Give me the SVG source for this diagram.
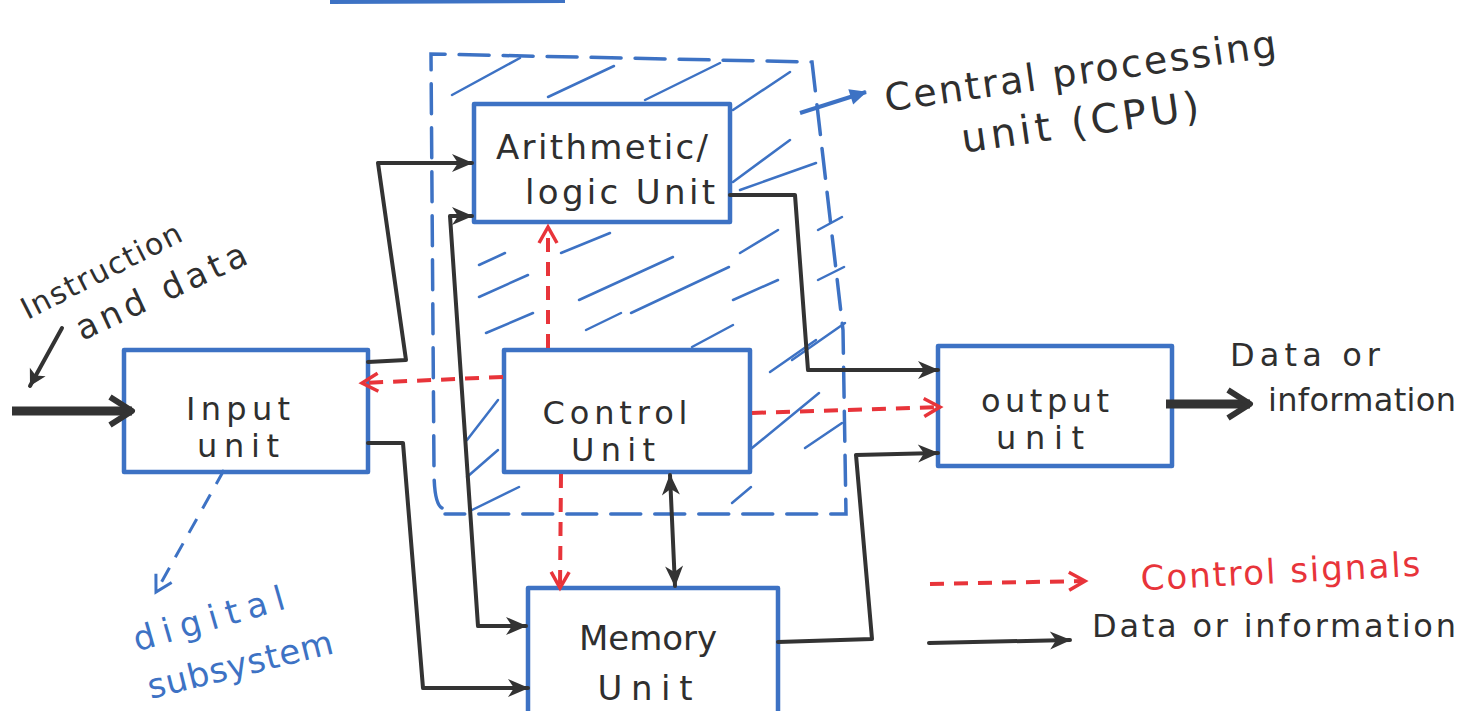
<svg xmlns="http://www.w3.org/2000/svg" width="1460" height="711" viewBox="0 0 1460 711">
<style>
.bg{fill:#ffffff}
.box{fill:none;stroke:#3d72c4;stroke-width:4.5;stroke-linejoin:round}
.cpu{fill:none;stroke:#3d72c4;stroke-width:3.5;stroke-dasharray:30 14;stroke-linecap:round}
.hatch line{stroke:#3d72c4;stroke-width:2.5;stroke-linecap:round}
.data{fill:none;stroke:#333333;stroke-width:4;stroke-linejoin:round;stroke-linecap:round}
.thick{fill:none;stroke:#333333;stroke-width:9}
.ctrl{fill:none;stroke:#e8343a;stroke-width:4;stroke-dasharray:14 10}
.bluearr{fill:none;stroke:#3d72c4;stroke-width:3;stroke-dasharray:16 12}
.t{font-family:"DejaVu Sans","Liberation Sans",sans-serif;fill:#2f2f2f;font-size:32px}
.l{font-size:34px}
.tb{font-family:"DejaVu Sans","Liberation Sans",sans-serif;fill:#3d72c4;font-size:34px}
.tr{font-family:"DejaVu Sans","Liberation Sans",sans-serif;fill:#e8343a;font-size:34px}
</style>
<defs>
<marker id="aBlack" markerUnits="userSpaceOnUse" markerWidth="26" markerHeight="22" refX="22" refY="11" orient="auto-start-reverse">
<path d="M2,2 L23,11 L2,20 L8,11 z" fill="#333333"/>
</marker>
<marker id="aBig" markerUnits="userSpaceOnUse" markerWidth="34" markerHeight="34" refX="30" refY="17" orient="auto">
<path d="M8,3 L30,17 L8,31" fill="none" stroke="#333333" stroke-width="6" stroke-linejoin="round"/>
</marker>
<marker id="aRed" markerUnits="userSpaceOnUse" markerWidth="24" markerHeight="24" refX="20" refY="12" orient="auto">
<path d="M4,3 L20,12 L4,21" fill="none" stroke="#e8343a" stroke-width="3.5"/>
</marker>
<marker id="aBlue" markerUnits="userSpaceOnUse" markerWidth="24" markerHeight="24" refX="20" refY="12" orient="auto">
<path d="M4,3 L20,12 L4,21" fill="none" stroke="#3d72c4" stroke-width="3"/>
</marker>
<marker id="aBlueFill" markerUnits="userSpaceOnUse" markerWidth="22" markerHeight="20" refX="18" refY="10" orient="auto">
<path d="M2,2 L19,10 L2,18 z" fill="#3d72c4"/>
</marker>
<marker id="aThin" markerUnits="userSpaceOnUse" markerWidth="24" markerHeight="24" refX="20" refY="12" orient="auto">
<path d="M4,3 L20,12 L4,21 L8,12 z" fill="#333333"/>
</marker>
</defs>
<rect class="bg" x="0" y="0" width="1460" height="711"/>

<line x1="330" y1="2" x2="565" y2="1" stroke="#3d72c4" stroke-width="4"/>

<g id="cpu">
<path class="cpu" d="M442,508 Q434,504 434,470 L431,54 L812,62 L843,330 L846,514 L445,514"/>
<g class="hatch">
<line x1="452" y1="95" x2="520" y2="58"/>
<line x1="548" y1="97" x2="614" y2="66"/>
<line x1="645" y1="100" x2="720" y2="63"/>
<line x1="733" y1="110" x2="790" y2="72"/>
<line x1="733" y1="182" x2="790" y2="140"/>
<line x1="740" y1="190" x2="816" y2="163"/>
<line x1="740" y1="253" x2="778" y2="230"/>
<line x1="733" y1="300" x2="778" y2="280"/>
<line x1="818" y1="230" x2="842" y2="217"/>
<line x1="818" y1="280" x2="844" y2="267"/>
<line x1="792" y1="360" x2="845" y2="323"/>
<line x1="479" y1="265" x2="505" y2="253"/>
<line x1="479" y1="297" x2="528" y2="275"/>
<line x1="486" y1="333" x2="533" y2="313"/>
<line x1="561" y1="253" x2="610" y2="233"/>
<line x1="579" y1="300" x2="673" y2="257"/>
<line x1="586" y1="330" x2="621" y2="313"/>
<line x1="631" y1="313" x2="729" y2="267"/>
<line x1="692" y1="347" x2="733" y2="325"/>
<line x1="467" y1="440" x2="498" y2="400"/>
<line x1="467" y1="477" x2="498" y2="450"/>
<line x1="472" y1="510" x2="519" y2="487"/>
<line x1="770" y1="372" x2="816" y2="340"/>
<line x1="752" y1="448" x2="819" y2="393"/>
<line x1="805" y1="448" x2="842" y2="423"/>
<line x1="732" y1="503" x2="751" y2="487"/>
</g>
<text class="t" transform="translate(1082,84) rotate(-8)" text-anchor="middle" textLength="395" style="font-size:38px">Central processing</text>
<text class="t" transform="translate(1082,136) rotate(-8)" text-anchor="middle" textLength="240" style="font-size:40px">unit (CPU)</text>
</g>

<g id="alu">
<rect class="box" x="474" y="104" width="256" height="118"/>
<text class="t l" x="602" y="159" text-anchor="middle" textLength="212">Arithmetic/</text>
<text class="t l" x="620" y="204" text-anchor="middle" textLength="190">logic Unit</text>
</g>

<g id="input">
<rect class="box" x="124" y="350" width="244" height="122"/>
<text class="t" x="238" y="420" text-anchor="middle" textLength="104">Input</text>
<text class="t" x="238" y="457" text-anchor="middle" textLength="82">unit</text>
</g>

<g id="control">
<rect class="box" x="504" y="350" width="246" height="122"/>
<text class="t" x="615" y="424" text-anchor="middle" textLength="145">Control</text>
<text class="t" x="613" y="461" text-anchor="middle" textLength="84">Unit</text>
</g>

<g id="output">
<rect class="box" x="938" y="346" width="234" height="120"/>
<text class="t" x="1045" y="412" text-anchor="middle" textLength="128">output</text>
<text class="t" x="1040" y="449" text-anchor="middle" textLength="88">unit</text>
</g>

<g id="memory">
<rect class="box" x="528" y="588" width="250" height="130"/>
<text class="t l" x="648" y="650" text-anchor="middle" textLength="138">Memory</text>
<text class="t l" x="645" y="700" text-anchor="middle" textLength="95">Unit</text>
</g>

<g id="connectors">
<line class="thick" x1="12" y1="411" x2="132" y2="411" marker-end="url(#aBig)"/>
<line class="thick" x1="1166" y1="404" x2="1250" y2="404" marker-end="url(#aBig)"/>
<line class="data" x1="62" y1="328" x2="30" y2="386" marker-end="url(#aThin)"/>
<path class="data" d="M368,362 L406,360 L378,163 L472,163" marker-end="url(#aBlack)"/>
<path class="data" d="M526,626 L478,626 L450,216 L472,216" marker-start="url(#aBlack)" marker-end="url(#aBlack)"/>
<path class="data" d="M368,443 L403,443 L423,688 L528,688" marker-end="url(#aBlack)"/>
<path class="data" d="M730,195 L795,195 L808,370 L938,370" marker-end="url(#aBlack)"/>
<path class="data" d="M778,642 L872,639 L856,455 L938,453" marker-end="url(#aBlack)"/>
<line class="data" x1="670" y1="475" x2="675" y2="586" marker-start="url(#aBlack)" marker-end="url(#aBlack)"/>
<line class="ctrl" x1="548" y1="348" x2="548" y2="227" marker-end="url(#aRed)"/>
<line class="ctrl" x1="503" y1="377" x2="362" y2="383" marker-end="url(#aRed)"/>
<line class="ctrl" x1="561" y1="474" x2="560" y2="588" marker-end="url(#aRed)"/>
<line class="ctrl" x1="752" y1="413" x2="940" y2="407" marker-end="url(#aRed)"/>
<line class="bluearr" x1="224" y1="470" x2="156" y2="592" marker-end="url(#aBlue)"/>
<line x1="800" y1="113" x2="866" y2="92" stroke="#3d72c4" stroke-width="4" marker-end="url(#aBlueFill)"/>
</g>

<g id="labels">
<text class="t" transform="translate(106,280) rotate(-27)" text-anchor="middle" textLength="176" style="font-size:30px">Instruction</text>
<text class="t" transform="translate(166,302) rotate(-25)" text-anchor="middle" textLength="185" style="font-size:34px">and data</text>
<text class="tb" transform="translate(212,630) rotate(-16)" text-anchor="middle" textLength="156">digital</text>
<text class="tb" transform="translate(243,676) rotate(-14)" text-anchor="middle" textLength="190">subsystem</text>
<text class="t" x="1230" y="366" textLength="150">Data or</text>
<text class="t" x="1268" y="411" textLength="188">information</text>
</g>

<g id="legend">
<line class="ctrl" x1="930" y1="584" x2="1085" y2="581" marker-end="url(#aRed)"/>
<line class="data" x1="929" y1="643" x2="1070" y2="640" marker-end="url(#aBlack)"/>
<text class="tr" transform="translate(1281,583) rotate(-3)" text-anchor="middle" textLength="280">Control signals</text>
<text class="t" x="1092" y="637" textLength="364">Data or information</text>
</g>
</svg>
